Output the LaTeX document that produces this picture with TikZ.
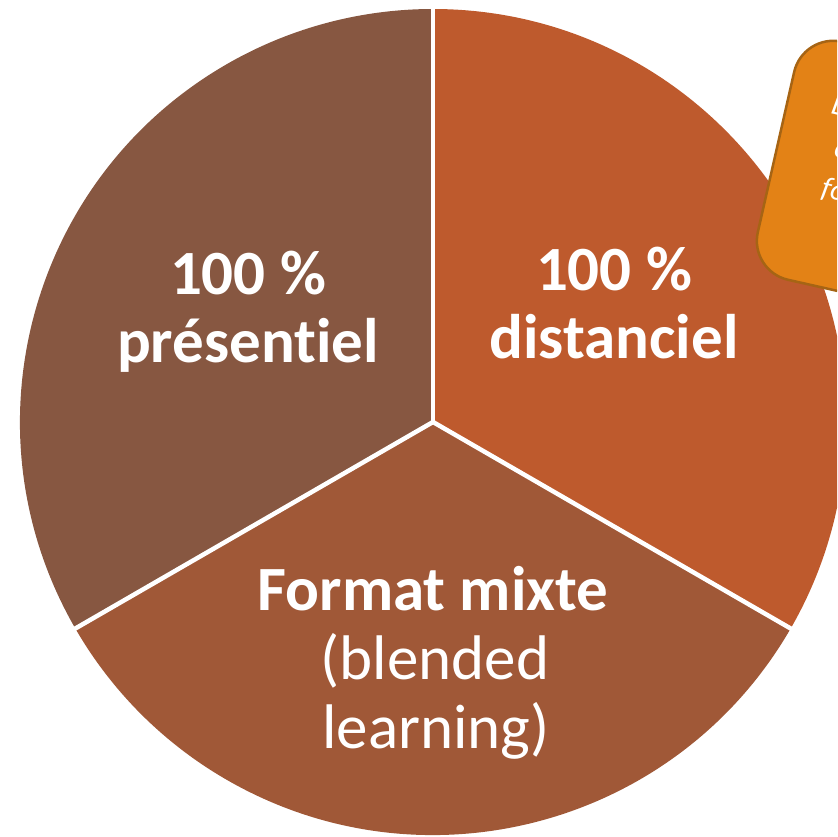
\documentclass[tikz,border=0pt]{standalone}
\usepackage{fontspec}
\setmainfont{Carlito}[Ligatures=NoCommon]
\definecolor{leftc}{RGB}{135,87,65}
\definecolor{rightc}{RGB}{190,90,45}
\definecolor{bottomc}{RGB}{160,88,55}
\definecolor{callfill}{RGB}{227,130,22}
\definecolor{callborder}{RGB}{166,100,20}
\begin{document}
\begin{tikzpicture}[x=1pt,y=-1pt,
  biglabel/.style={text=white, inner sep=0pt, anchor=base, font=\bfseries\fontsize{63}{68}\selectfont},
  reglabel/.style={text=white, inner sep=0pt, anchor=base, font=\fontsize{63}{68}\selectfont},
  calltext/.style={text=white, inner sep=0pt, anchor=base west, rotate=-13, font=\itshape\fontsize{30}{36}\selectfont},
  sep/.style={white, line width=4.5pt}]
\useasboundingbox (0,0) rectangle (837,837);
\clip (0,0) rectangle (837,837);
\coordinate (c) at (433,422);
% slices
\fill[leftc] (c) -- ++(150:413) arc[start angle=150, end angle=270, radius=413] -- cycle;
\fill[bottomc] (c) -- ++(30:413) arc[start angle=30, end angle=150, radius=413] -- cycle;
\begin{scope}[shift={(3,2)}]
\fill[rightc] (c) -- ++(-90:413) arc[start angle=-90, end angle=30, radius=413] -- cycle;
\end{scope}
% separators
\draw[sep] (c) -- ++(-90:430);
\draw[sep] (c) -- ++(30:430);
\draw[sep] (c) -- ++(150:430);
% labels
\node[biglabel] (p1) at (248,294) {100 \%};
\node[biglabel] (p2) at (248,362) {présentiel};
\node[biglabel] (d1) at (614,290) {100 \%};
\node[biglabel] (d2) at (614,358) {distanciel};
\node[biglabel] (m1) at (433,610) {Format mixte};
\node[reglabel] (m2) at (435,679) {(blended};
\node[reglabel] (m3) at (436,748) {learning)};
% callout
\draw[fill=callfill, draw=callborder, line width=2.5pt, rounded corners=40pt]
  (776,152) -- (803,33) -- (1096,99) -- (1042,337) -- (749,271) -- cycle;
\node[calltext] (t1) at (830,113) {L};
\node[calltext] (t2) at (833,156) {c};
\node[calltext] (t3) at (820,196) {fo};
\end{tikzpicture}
\end{document}
